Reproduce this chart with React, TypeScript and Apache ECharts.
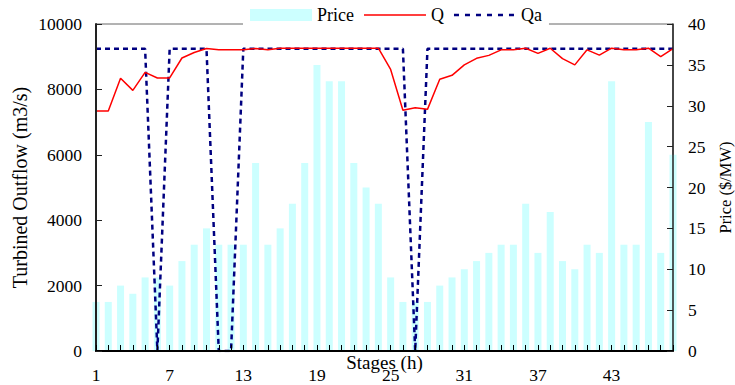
import React, { useEffect, useRef } from "react";
import * as echarts from "echarts";

const stages = Array.from({ length: 48 }, (_, i) => String(i + 1));

const price = [6, 6, 8, 7, 9, 9, 8, 11, 13, 15, 13, 13, 13, 23, 13, 15, 18, 23, 35, 33, 33, 23, 20, 18, 9, 6, 6, 6, 8, 9, 10, 11, 12, 13, 13, 18, 12, 17, 11, 10, 13, 12, 33, 13, 13, 28, 12, 24];

const q = [7340, 7340, 8340, 7970, 8520, 8350, 8350, 8960, 9130, 9250, 9210, 9210, 9210, 9250, 9210, 9260, 9260, 9260, 9260, 9260, 9260, 9260, 9260, 9260, 8610, 7360, 7440, 7390, 8310, 8430, 8750, 8950, 9040, 9210, 9210, 9260, 9100, 9260, 8940, 8750, 9210, 9050, 9260, 9210, 9210, 9260, 9000, 9250];

const qa = [9240, 9240, 9240, 9240, 9240, 0, 9240, 9240, 9240, 9240, 0, 0, 9240, 9240, 9240, 9240, 9240, 9240, 9240, 9240, 9240, 9240, 9240, 9240, 9240, 9240, 0, 9240, 9240, 9240, 9240, 9240, 9240, 9240, 9240, 9240, 9240, 9240, 9240, 9240, 9240, 9240, 9240, 9240, 9240, 9240, 9240, 9240];

const FONT = "Liberation Serif, Times New Roman, serif";

// legend icons (bounding box 62x12 kept by zero-area anchors)
const ANCHORS = "M0,0L0.01,0Z M0,12L0.01,12Z M62,0L61.99,0Z ";
const Q_ICON = "path://" + ANCHORS + "M0,5.3L62,5.3L62,6.7L0,6.7Z";
const QA_ICON =
  "path://" +
  ANCHORS +
  [0, 11, 22, 33, 44, 55]
    .map((x) => `M${x},4.8L${x + 5},4.8L${x + 5},7.2L${x},7.2Z`)
    .join(" ");

export default function App() {
  const ref = useRef<HTMLDivElement>(null);
  useEffect(() => {
    if (!ref.current) return;
    const chart = echarts.init(ref.current, undefined, { renderer: "svg" });
    chart.setOption({
      animation: false,
      backgroundColor: "#fff",
      textStyle: { fontFamily: FONT, color: "#000" },
      grid: {
        left: 96,
        right: 62,
        top: 24,
        bottom: 34,
        outerBoundsMode: "none",
        containLabel: false,
        show: true,
        borderColor: "#666",
        borderWidth: 1,
        backgroundColor: "transparent",
      },
      legend: {
        left: 243,
        top: 0,
        padding: [6, 7, 6, 7],
        backgroundColor: "#fff",
        itemWidth: 62,
        itemHeight: 12,
        itemGap: 10,
        textStyle: { fontFamily: FONT, fontSize: 18, color: "#000" },
        data: [
          { name: "Price", icon: "rect" },
          { name: "Q", icon: Q_ICON },
          { name: "Qa", icon: QA_ICON },
        ],
      },
      xAxis: {
        type: "category",
        data: stages,
        boundaryGap: false,
        z: 5,
        name: "Stages (h)",
        nameLocation: "middle",
        nameGap: 2,
        nameMoveOverlap: false,
        nameTextStyle: { fontFamily: FONT, fontSize: 19, color: "#000" },
        axisLine: { show: true, lineStyle: { color: "#000", width: 2 } },
        axisTick: { show: true, inside: true, length: 6, interval: 0, lineStyle: { color: "#000", width: 1 } },
        axisLabel: { interval: 5, fontFamily: FONT, fontSize: 17.5, color: "#000", margin: 15 },
        splitLine: { show: false },
      },
      yAxis: [
        {
          type: "value",
          min: 0,
          max: 10000,
          interval: 2000,
          position: "left",
          z: 5,
          name: "Turbined Outflow (m3/s)",
          nameLocation: "middle",
          nameGap: 66,
          nameMoveOverlap: false,
          nameTextStyle: { fontFamily: FONT, fontSize: 20, color: "#000" },
          axisLine: { show: true, lineStyle: { color: "#222", width: 2 } },
          axisTick: { show: true, inside: true, length: 6, lineStyle: { color: "#222", width: 1 } },
          axisLabel: { fontFamily: FONT, fontSize: 17.5, color: "#000", margin: 14, formatter: (v: number) => String(v) },
          splitLine: { show: false },
        },
        {
          type: "value",
          min: 0,
          max: 40,
          interval: 5,
          position: "right",
          z: 5,
          name: "Price ($/MW)",
          nameLocation: "middle",
          nameGap: 44,
          nameMoveOverlap: false,
          nameTextStyle: { fontFamily: FONT, fontSize: 16.5, color: "#000" },
          axisLine: { show: true, lineStyle: { color: "#222", width: 1.5 } },
          axisTick: { show: true, inside: true, length: 6, lineStyle: { color: "#222", width: 1 } },
          axisLabel: { fontFamily: FONT, fontSize: 17.5, color: "#000", margin: 15, formatter: (v: number) => String(v) },
          splitLine: { show: false },
        },
      ],
      series: [
        {
          name: "Price",
          type: "bar",
          yAxisIndex: 1,
          data: price,
          barWidth: 7,
          itemStyle: { color: "#ccffff" },
          z: 1,
        },
        {
          name: "Q",
          type: "line",
          yAxisIndex: 0,
          data: q,
          symbol: "none",
          lineStyle: { color: "#ff0000", width: 1.5 },
          itemStyle: { color: "#ff0000" },
          z: 4,
        },
        {
          name: "Qa",
          type: "line",
          yAxisIndex: 0,
          data: qa,
          symbol: "none",
          lineStyle: { color: "#000080", width: 2.5, type: [5, 4] },
          itemStyle: { color: "#000080" },
          z: 3,
        },
      ],
    });
    return () => chart.dispose();
  }, []);
  return (
    <div
      ref={ref}
      style={{ position: "fixed", left: 0, top: 0, width: 735, height: 385, background: "#fff" }}
    />
  );
}
